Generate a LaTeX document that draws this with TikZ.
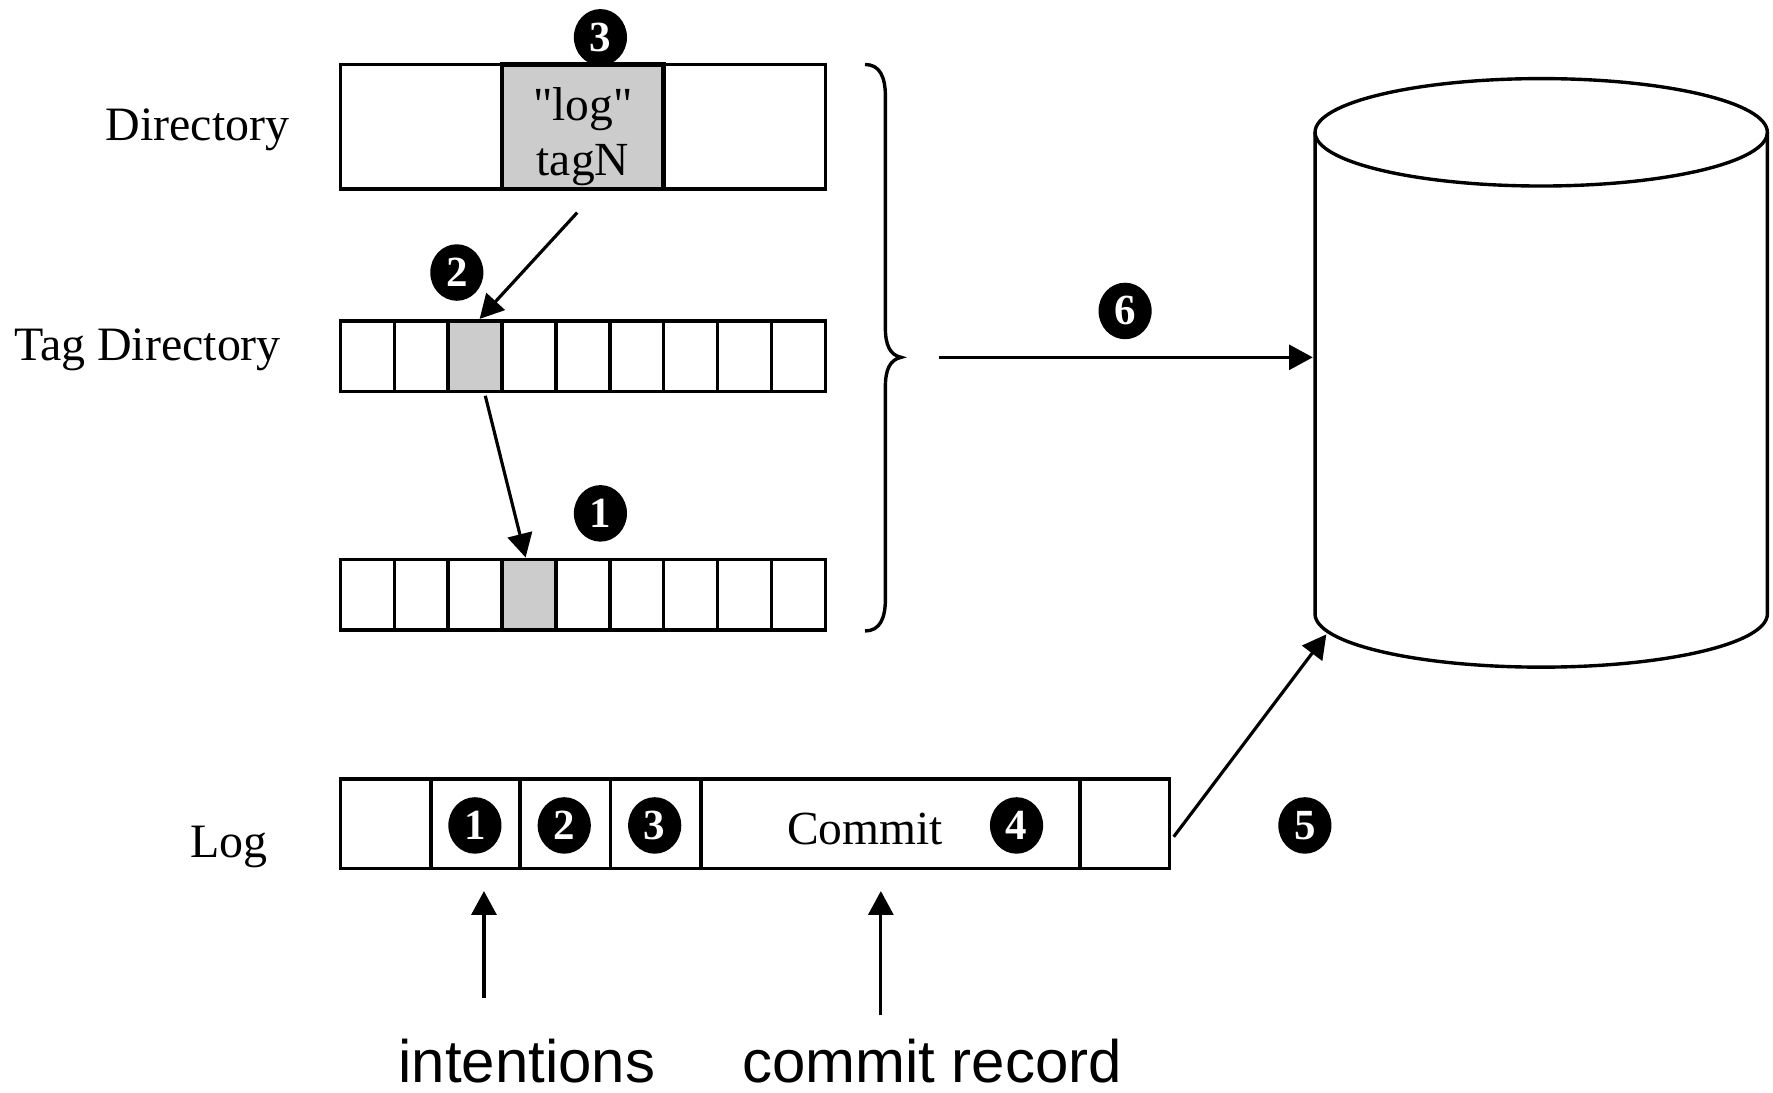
\documentclass[tikz,border=0pt]{standalone}
\usepackage{fontspec}
\setmainfont{Liberation Serif}
\newfontfamily\plainserif{Liberation Serif}
\newfontfamily\capsans{Liberation Sans}
\usetikzlibrary{arrows.meta,calc,shapes.geometric}

\tikzset{
  cell/.style={draw=black, line width=1.5pt, inner sep=0pt, outer sep=0pt},
  slot/.style={cell, minimum width=23.83pt, minimum height=31pt},
  dircell/.style={cell, minimum width=71.5pt, minimum height=55pt},
  logcell/.style={cell, minimum height=39.5pt},
  hot/.style={fill=black!20},
  rowlabel/.style={font=\fontsize{21.2}{25}\selectfont, inner sep=0pt, anchor=base west},
  serif/.style={font=\fontsize{21}{24.5}\selectfont, inner sep=0pt},
  caption/.style={font=\capsans\fontsize{26.5}{30}\selectfont, inner sep=0pt, anchor=base west},
  badge/.style={ellipse, fill=black, text=white, inner sep=0pt,
    minimum width=23.5pt, minimum height=25pt,
    font=\fontsize{19}{20}\selectfont\bfseries},
  arr/.style={line width=1.4pt, -{Triangle[length=10.5pt,width=11pt]}},
  curve/.style={line width=1.5pt}
}

\begin{document}
\begin{tikzpicture}[x=0.5pt,y=-0.5pt]
\useasboundingbox (0,0) rectangle (1568,966);

% row labels
\node[rowlabel] (ldir) at (93,124) {Directory};
\node[rowlabel] (ltag) at (12,319) {Tag Directory};
\node[rowlabel] (llog) at (168,758) {Log};

% directory
\node[dircell] (d0) at (372.5,112) {};
\node[dircell, hot, line width=2pt] (d1) at (515.5,112) {};
\node[dircell] (d2) at (658.5,112) {};
\node[serif, align=center, font=\plainserif\fontsize{21}{24.5}\selectfont] (dtext) at (515.5,121) {"log"\\tagN};

% tag directory and the block it points to
\foreach \i in {0,...,8} {
  \node[slot] (t\i) at ({301+47.667*(\i+0.5)},315) {};
  \node[slot] (b\i) at ({301+47.667*(\i+0.5)},526) {};
}
\node[slot, hot] at (t2) {};
\node[slot, hot] at (b3) {};

% log
\node[logcell, minimum width=40pt]    (l0) at (341,728.5) {};
\node[logcell, minimum width=39.5pt]  (l1) at (420.5,728.5) {};
\node[logcell, minimum width=40pt]    (l2) at (500,728.5) {};
\node[logcell, minimum width=40pt]    (l3) at (580,728.5) {};
\node[logcell, minimum width=167.5pt] (l4) at (787.5,728.5) {};
\node[logcell, minimum width=39.5pt]  (l5) at (994.5,728.5) {};
\node[serif, anchor=base] (commit) at (765,747) {Commit};

% numbered markers
\node[badge] (n3top) at (531,33) {3};
\node[badge] (n2top) at (404,241) {2};
\node[badge] (n1top) at (531,454) {1};
\node[badge] (n6) at (995,275) {6};
\node[badge] (n5) at (1154,730) {5};
\node[badge] (n1log) at (420,730) {1};
\node[badge] (n2log) at (499,730) {2};
\node[badge] (n3log) at (579,730) {3};
\node[badge] (n4log) at (899,730) {4};

% brace grouping the three tables
\draw[curve] (765,57) .. controls (778,57) and (783,68) .. (783,85)
  -- (783,290) .. controls (783,305) and (787,314) .. (797,316)
  .. controls (787,318) and (783,327) .. (783,342)
  -- (783,530) .. controls (783,547) and (778,558) .. (765,558);
\coordinate (bracetip) at (797,316);

% disk
\node[minimum width=200pt, minimum height=213pt, inner sep=0pt, outer sep=0pt] (disk) at (1363,330) {};
\draw[curve] (disk.north) ellipse [x radius=200, y radius=47.5];
\draw[curve] (disk.north west) -- (disk.south west)
  arc [start angle=180, end angle=0, x radius=200, y radius=47]
  -- (disk.north east);

% connectors
\draw[arr] ($(d1.south)+(-5,21)$) -- ($(t2.north)+(4,-2)$);
\draw[arr] ($(t2.south)+(9,4)$) -- ($(b3.north)+(-3,-2)$);
\draw[arr] ($(bracetip)+(33,0)$) -- ($(disk.west)+(-2,-14)$);
\draw[arr] ($(l5.east)+(4,11.5)$) -- ($(disk.south west)+(10,18)$);

% captions under the log
\node[caption] (cint) at (352,957) {intentions};
\node[caption] (ccom) at (656,957) {commit record};
\draw[arr] ($(l1.south)+(7.5,115)$) -- ($(l1.south)+(7.5,20)$);
\draw[arr] ($(l4.south)+(-8.5,130)$) -- ($(l4.south)+(-8.5,20)$);
\end{tikzpicture}
\end{document}
